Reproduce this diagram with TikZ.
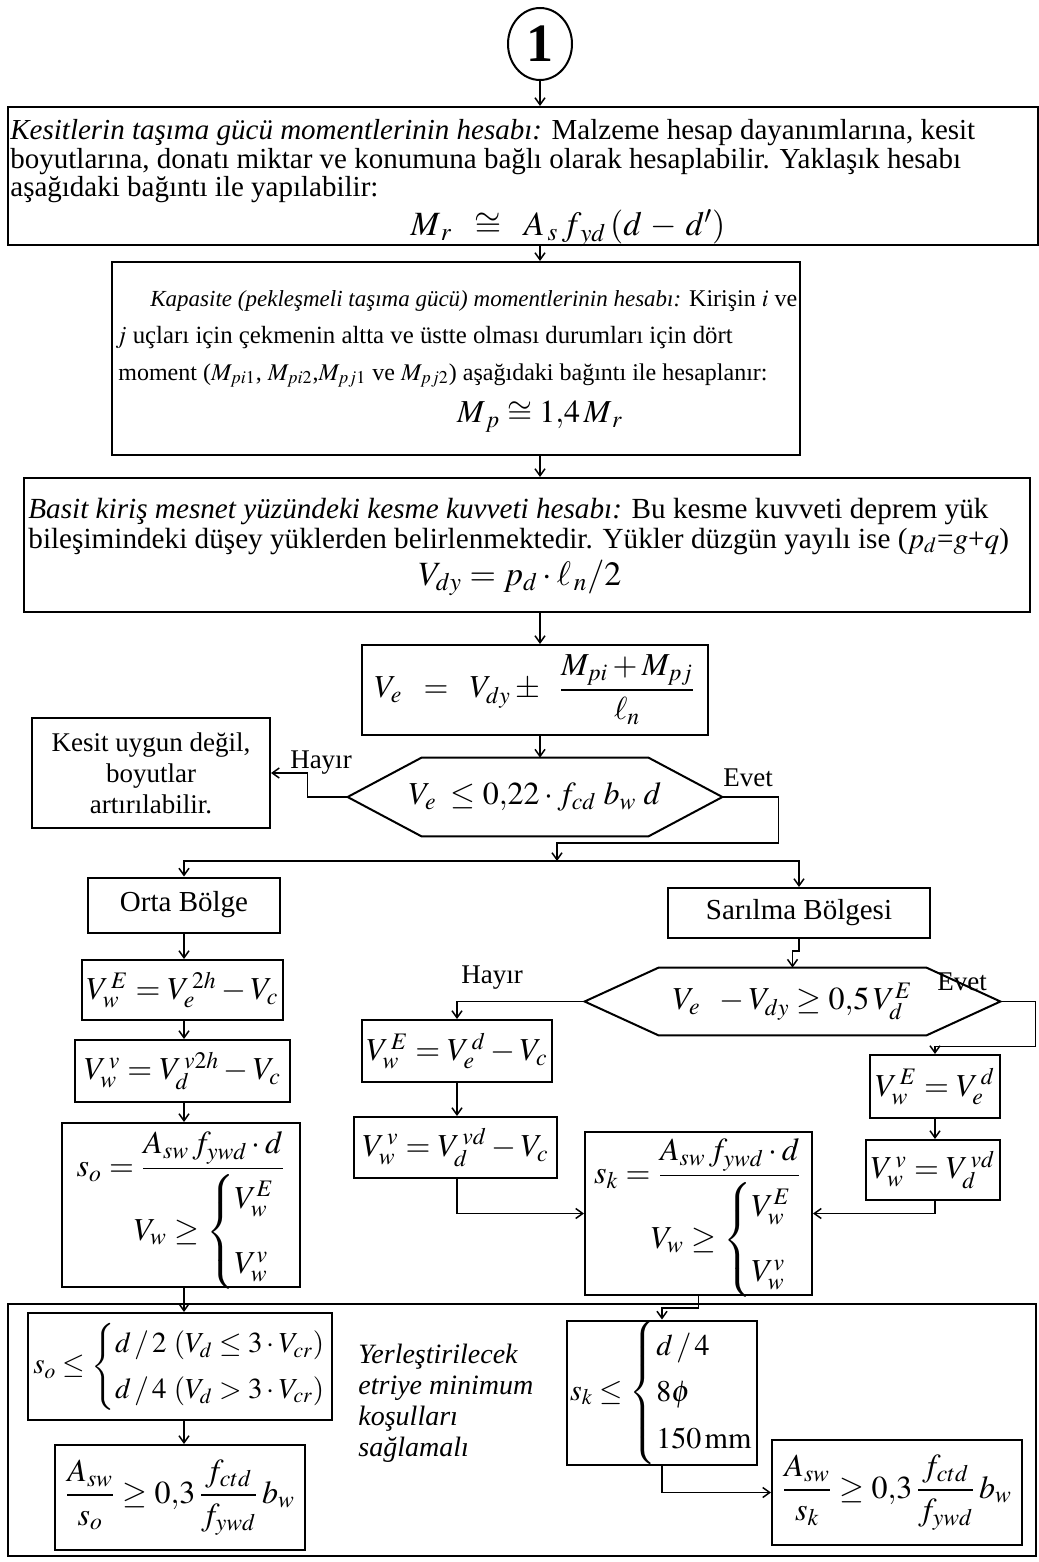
\documentclass[tikz,border=0pt]{standalone}
\usepackage{amsmath}
\usepackage{mathptmx}
\usepackage{fontspec}
\setmainfont{Liberation Serif}
\usetikzlibrary{positioning, fit, shapes.geometric, arrows.meta}

\tikzset{
  box/.style={draw, line width=1pt, inner sep=0pt},
  arr/.style={->, >={Straight Barb[length=3.5pt,width=5pt]}, line width=0.75pt},
  txt/.style={anchor=base west, inner sep=0pt, font=\fontsize{14.5}{16}\selectfont},
  frm/.style={inner sep=0pt, font=\fontsize{16}{19}\selectfont},
  lbl/.style={inner sep=0pt, font=\fontsize{13.5}{15}\selectfont}
}
\newcommand{\hexa}[2]{% node, chamfer
  \draw[line width=1pt] (#1.west) -- ([xshift=#2]#1.north west) -- ([xshift=-#2]#1.north east)
    -- (#1.east) -- ([xshift=-#2]#1.south east) -- ([xshift=#2]#1.south west) -- cycle;}
\newcommand{\secim}[1]{\left\{\def\arraystretch{1.2}\begin{array}{@{}l@{}}#1\end{array}\right.}

\begin{document}
\begin{tikzpicture}[x=0.5pt, y=-0.5pt]
    \useasboundingbox (0,0) rectangle (1038,1562);

    % Baslangic
    \node[ellipse, draw, line width=1pt, minimum width=32pt, minimum height=36pt, inner sep=0pt,
          font=\fontsize{27}{27}\selectfont\bfseries] (c1) at (540,44) {1};

    % Tasima gucu
    \node[box, fit={(8,107) (1038,245)}] (k1) {};
    \node[txt] (k1a) at (10,140) {\textit{Kesitlerin taşıma gücü momentlerinin hesabı:} Malzeme hesap dayanımlarına, kesit};
    \node[txt] (k1b) at (10,169) {boyutlarına, donatı miktar ve konumuna bağlı olarak hesaplabilir. Yaklaşık hesabı};
    \node[txt] (k1c) at (10,197) {aşağıdaki bağıntı ile yapılabilir:};
    \node[frm, font=\fontsize{17}{19}\selectfont] (k1d) at (568,228) {$M_{\,r} \;\;\cong\;\; A_{\,s}\, f_{\,yd}\,(d \,-\, d')$};

    % Kapasite
    \node[box, fit={(112,262) (800,455)}] (k2) {};
    \node[txt, font=\fontsize{12}{14}\selectfont] (k2a) at (150,306)
        {{\fontsize{11.5}{14}\selectfont\itshape Kapasite (pekleşmeli taşıma gücü) momentlerinin hesabı:} Kirişin $i$ ve};
    \node[txt, font=\fontsize{12.4}{14}\selectfont] (k2b) at (115,343) {$j$ uçları için çekmenin altta ve üstte olması durumları için dört};
    \node[txt, font=\fontsize{12}{14}\selectfont] (k2c) at (118,380)
        {moment ($M_{pi1}$, $M_{pi2}$,$M_{pj1}$ ve $M_{pj2}$) aşağıdaki bağıntı ile hesaplanır:};
    \node[frm] (k2d) at (540,417) {$M_{\,p} \cong 1{,}4\,M_{\,r}$};

    % Basit kiris
    \node[box, fit={(24,478) (1030,612)}] (k3) {};
    \node[txt, font=\fontsize{14.6}{16}\selectfont] (k3a) at (28,518) {\textit{Basit kiriş mesnet yüzündeki kesme kuvveti hesabı:} Bu kesme kuvveti deprem yük};
    \node[txt, font=\fontsize{14.6}{16}\selectfont] (k3b) at (28,548) {bileşimindeki düşey yüklerden belirlenmektedir. Yükler düzgün yayılı ise ($p_d$=$g$+$q$)};
    \node[frm, font=\fontsize{17}{19}\selectfont] (k3c) at (520,578) {$V_{dy} = p_d \cdot \ell_{\,n}/2$};

    \node[box, minimum width=173pt, minimum height=45pt, frm] (k4) at (535,690)
        {$V_e \;\;=\;\; V_{dy} \pm\;\; \dfrac{M_{pi} + M_{pj}}{\ell_n}$};

    % Kesit kontrolu
    \node[minimum width=187pt, minimum height=39pt, inner sep=0pt, frm] (h1) at (535,797)
        {$V_e \;\leq 0{,}22\cdot f_{cd}\; b_w\; d$};
    \hexa{h1}{37pt}

    \node[box, minimum width=119pt, minimum height=55pt, align=center, font=\fontsize{13.5}{15.5}\selectfont] (k5) at (151,773)
        {Kesit uygun değil,\\ boyutlar\\ artırılabilir.};
    \node[lbl] (hy1) at (321,763) {Hayır};
    \node[lbl] (ev1) at (748,778) {Evet};

    \node[box, minimum width=96pt, minimum height=27.5pt, font=\fontsize{14.5}{16}\selectfont] (k6) at (184,905) {Orta Bölge};
    \node[box, minimum width=131pt, minimum height=25pt, font=\fontsize{14.5}{16}\selectfont] (k7) at (799,913) {Sarılma Bölgesi};

    % Orta bolge
    \node[box, minimum width=100.5pt, minimum height=30pt, frm] (l1) at (182.5,990) {$V_w^{\,E} = V_e^{\,2h} - V_c$};
    \node[box, minimum width=107.5pt, minimum height=31pt, frm] (l2) at (182.5,1071) {$V_w^{\,v} = V_d^{\,v2h} - V_c$};
    \node[box, fit={(62,1123) (300,1287)}] (l3) {};
    \node[frm] (l3a) at (181,1165) {$s_o = \dfrac{A_{sw}\, f_{ywd}\cdot d}{\hphantom{x}}$};
    \node[frm] (l3b) at (205,1232) {$V_w \geq \secim{V_w^E \\[10pt] V_w^v}$};

    % Sarilma bolgesi
    \node[minimum width=207.5pt, minimum height=33.5pt, inner sep=0pt, frm] (h2) at (792.5,1001.5)
        {$V_e \;\;-V_{dy} \geq 0{,}5\, V_d^E$};
    \hexa{h2}{37pt}
    \node[lbl] (hy2) at (492,978) {Hayır};
    \node[lbl] (ev2) at (962,982) {Evet};

    \node[box, minimum width=95pt, minimum height=31pt, frm] (m1) at (457,1051) {$V_w^{\,E} = V_e^{\,d} - V_c$};
    \node[box, minimum width=101.5pt, minimum height=30.5pt, frm] (m2) at (455.5,1147.5) {$V_w^{\,v} = V_d^{\,vd} - V_c$};
    \node[box, minimum width=65pt, minimum height=31.5pt, frm] (r1) at (935,1086.5) {$V_w^{\,E} = V_e^{\,d}$};
    \node[box, minimum width=67pt, minimum height=30pt, frm] (r2) at (933,1170) {$V_w^{\,v} = V_d^{\,vd}$};
    \node[box, fit={(585,1132) (812,1295)}] (s1) {};
    \node[frm] (s1a) at (698,1172) {$s_k = \dfrac{A_{sw}\, f_{ywd}\cdot d}{\hphantom{x}}$};
    \node[frm] (s1b) at (722,1240) {$V_w \geq \secim{V_w^E \\[10pt] V_w^v}$};

    % Minimum kosullar
    \node[box, fit={(8,1304) (1036,1556)}] (fr) {};
    \node[box, minimum width=152pt, minimum height=53.5pt, frm, font=\fontsize{14.5}{19}\selectfont] (b1) at (180,1366.5)
        {$s_o \leq \secim{d\,/\,2\ (V_d \leq 3\cdot V_{cr}) \\ d\,/\,4\ (V_d > 3\cdot V_{cr})}$};
    \node[box, minimum width=125pt, minimum height=52.5pt, frm] (b2) at (180,1497.5)
        {$\dfrac{A_{sw}}{s_o} \geq 0{,}3\,\dfrac{f_{ctd}}{f_{ywd}}\, b_w$};
    \node[anchor=north west, align=left, inner sep=0pt, font=\itshape\fontsize{14}{15.5}\selectfont] (yt) at (358,1344)
        {Yerleştirilecek\\ etriye minimum\\ koşulları\\ sağlamalı};
    \node[box, minimum width=95pt, minimum height=69.5pt, frm, font=\fontsize{15}{19.5}\selectfont] (b3) at (662,1392.5)
        {$s_k \leq \secim{d\,/\,4 \\ 8\phi \\ 150\,\mathrm{mm}}$};
    \node[box, minimum width=125pt, minimum height=52.5pt, frm] (b4) at (897,1492.5)
        {$\dfrac{A_{sw}}{s_k} \geq 0{,}3\,\dfrac{f_{ctd}}{f_{ywd}}\, b_w$};

    % Baglantilar
    \draw[arr] (c1.south) -- (k1.north -| c1);
    \draw[arr] (k1.south -| c1) -- (k2.north -| c1);
    \draw[arr] (k2.south -| c1) -- (k3.north -| c1);
    \draw[arr] (k3.south -| c1) -- (k4.north -| c1);
    \draw[arr] (k4.south -| c1) -- (h1.north -| c1);
    \draw[arr] (h1.west) -- ++(-40,0) |- (k5.east);
    \coordinate (j1) at (557,861);
    \draw[arr] (h1.east) -- ++(56,0) -- ++(0,46) -| (j1);
    \draw[arr] (j1) -| (k6.north);
    \draw[arr] (j1) -| (k7.north);
    \draw[arr] (k6.south) -- (l1.north -| k6);
    \draw[arr] (l1.south -| k6) -- (l2.north -| k6);
    \draw[arr] (l2.south -| k6) -- (l3.north -| k6);
    \draw[arr] (l3.south -| k6) -- (b1.north -| k6);
    \draw[arr] (b1.south -| k6) -- (b2.north -| k6);
    \draw[arr] (k7.south) -- ++(0,12) -| (h2.north);
    \draw[arr] (h2.west) -| (m1.north);
    \draw[arr] (m1.south) -- (m2.north -| m1);
    \draw[arr] (m2.south -| m1) |- (s1.west);
    \draw[arr] (h2.east) -- ++(35,0) -- ++(0,45) -| (r1.north);
    \draw[arr] (r1.south) -- (r2.north -| r1);
    \draw[arr] (r2.south -| r1) |- (s1.east);
    \draw[arr] (s1.south) -- ++(0,12) -| (b3.north);
    \draw[arr] (b3.south) |- (b4.west);
\end{tikzpicture}
\end{document}
